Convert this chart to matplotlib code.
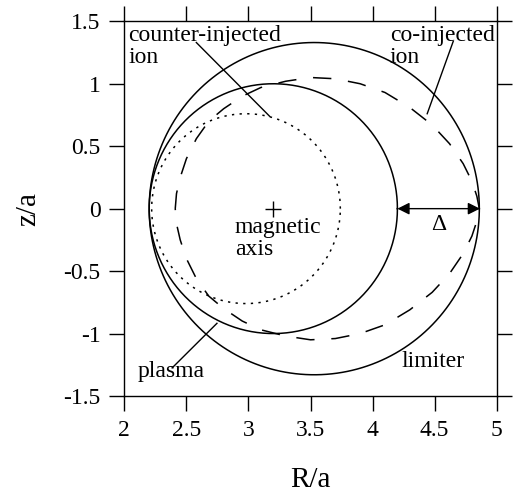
import numpy as np
import matplotlib
matplotlib.use("Agg")
import matplotlib.pyplot as plt

plt.rcParams['font.family'] = ['Liberation Serif', 'DejaVu Serif']

# Circles: (center R, radius)
limiter_center, limiter_radius = 3.53, 1.33
plasma_center, plasma_radius = 3.2, 1.0
counter_center, counter_radius = 2.98, 0.76
axis_point = (3.2, 0.0)

# co-injected ion orbit (upper half), mirrored for lower half
co_R_upper = [2.41, 2.42, 2.45, 2.50, 2.58, 2.68, 2.80, 2.95, 3.10, 3.30, 3.50, 3.70, 3.90,
              4.10, 4.30, 4.48, 4.62, 4.73, 4.80, 4.84, 4.86]
co_z_upper = [0.00, 0.12, 0.25, 0.40, 0.56, 0.70, 0.80, 0.90, 0.97, 1.02, 1.05, 1.04, 1.00,
              0.93, 0.81, 0.67, 0.52, 0.36, 0.22, 0.10, 0.00]

xticks = [2, 2.5, 3, 3.5, 4, 4.5, 5]
xticklabels = ['2', '2.5', '3', '3.5', '4', '4.5', '5']
yticks = [-1.5, -1, -0.5, 0, 0.5, 1, 1.5]
yticklabels = ['-1.5', '-1', '-0.5', '0', '0.5', '1', '1.5']

fig = plt.figure(figsize=(5.16, 5.0), dpi=100)
ax = fig.add_axes([0.241, 0.208, 0.7216, 0.7494])
ax.set_xlim(2, 5)
ax.set_ylim(-1.5, 1.5)

t = np.linspace(0, 2 * np.pi, 400)
lw = 1.1
ax.plot(limiter_center + limiter_radius * np.cos(t), limiter_radius * np.sin(t), color='black', lw=lw)
ax.plot(plasma_center + plasma_radius * np.cos(t), plasma_radius * np.sin(t), color='black', lw=lw)
ax.plot(counter_center + counter_radius * np.cos(t), counter_radius * np.sin(t), color='black', lw=1.1,
        linestyle=(0, (1.5, 3.5)))

co_R_full = np.concatenate([co_R_upper, co_R_upper[::-1][1:]])
co_z_full = np.concatenate([co_z_upper, [-z for z in co_z_upper[::-1][1:]]])
ax.plot(co_R_full, co_z_full, color='black', lw=lw, linestyle=(0, (12, 11)))

ax.plot([axis_point[0]], [axis_point[1]], marker='+', color='black', markersize=12, mew=1.0)

fs = 17
ax.text(2.03, 1.47, 'counter-injected\nion', fontsize=fs, va='top', ha='left', linespacing=1.05)
ax.plot([2.58, 3.17], [1.33, 0.74], color='black', lw=1.0)
ax.text(4.14, 1.47, 'co-injected\nion', fontsize=fs, va='top', ha='left', linespacing=1.05)
ax.plot([4.65, 4.44], [1.34, 0.76], color='black', lw=1.0)
ax.text(2.89, -0.07, 'magnetic\naxis', fontsize=fs, va='top', ha='left', linespacing=1.05)
ax.text(2.11, -1.30, 'plasma', fontsize=fs, va='center', ha='left')
ax.plot([2.385, 2.746], [-1.275, -0.918], color='black', lw=1.0)
ax.text(4.23, -1.22, 'limiter', fontsize=fs, va='center', ha='left')

ax.annotate('', xy=(4.2, 0), xytext=(4.865, 0),
            arrowprops=dict(arrowstyle='<|-|>', color='black', lw=1.0, mutation_scale=18,
                            shrinkA=0, shrinkB=0))
ax.text(4.53, -0.04, 'Δ', fontsize=fs, va='top', ha='center')

ax.set_xticks(xticks)
ax.set_xticklabels(xticklabels)
ax.set_yticks(yticks)
ax.set_yticklabels(yticklabels)
ax.tick_params(direction='out', length=11, width=1.0, labelsize=fs, pad=6,
               top=True, right=True, labeltop=False, labelright=False)
for s in ax.spines.values():
    s.set_linewidth(1.0)

ax.set_xlabel('R/a', fontsize=21, labelpad=19)
ax.set_ylabel('z/a', fontsize=21, labelpad=16)

fig.savefig('out.png', dpi=100)
